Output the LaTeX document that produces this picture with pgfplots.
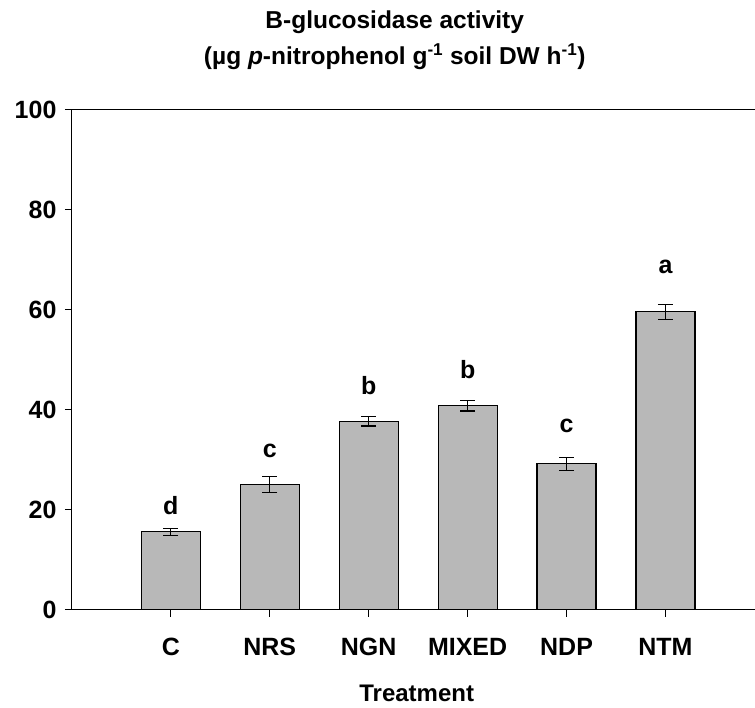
\documentclass[border=0pt]{standalone}
\usepackage{pgfplots}
\pgfplotsset{compat=1.18}
\usepackage{fontspec}
\setmainfont{Liberation Sans}
\definecolor{barfill}{RGB}{184,184,184}
\begin{document}
\begin{tikzpicture}
\begin{axis}[
  name=ax,
  at={(0,0)}, anchor=south west,
  scale only axis,
  width=683pt, height=500pt,
  xmin=-1, xmax=5.9, ymin=0, ymax=100,
  enlargelimits=false,
  clip=false,
  axis y line=left, axis x line=bottom,
  axis line style={line width=1pt,-},
  xtick={0,1,2,3,4,5},
  xticklabels={C,NRS,NGN,MIXED,NDP,NTM},
  ytick={0,20,40,60,80,100},
  tick align=outside,
  major tick length=7pt,
  tick style={line width=1pt,black},
  /pgf/number format/assume math mode=true,
  tick label style={font=\bfseries\fontsize{25}{29}\selectfont},
  xticklabel style={yshift=-18pt},
  yticklabel style={xshift=-5pt},
]
\addplot[ybar, bar width=59pt, fill=barfill, draw=black, line width=1.2pt,
  error bars/.cd, y dir=both, y explicit,
  error bar style={line width=1.2pt,black},
  error mark options={rotate=90, mark size=7.5pt, line width=1.2pt, black}]
  table[x=x, y=y, y error=e] {
x y e
0 15.6 0.7
1 25.1 1.6
2 37.7 0.95
3 40.8 1.05
4 29.2 1.3
5 59.6 1.5
};
\draw[line width=1pt] (rel axis cs:0,1) -- (rel axis cs:1,1);
\begin{scope}[every node/.style={anchor=base, font=\bfseries\fontsize{25}{29}\selectfont, inner sep=0pt}]
\node at (axis cs:0,19.0) {d};
\node at (axis cs:1,30.5) {c};
\node at (axis cs:2,43.1) {b};
\node at (axis cs:3,46.3) {b};
\node at (axis cs:4,35.5) {c};
\node at (axis cs:5,67.2) {a};
\end{scope}
\end{axis}
\path[use as bounding box] (ax.south west) ++(-72pt,-98pt) rectangle ++(755pt,708pt);
\begin{scope}[shift={(ax.south west)}, every node/.style={anchor=base, inner sep=0pt}]
\node[font=\bfseries\fontsize{24.5}{29}\selectfont] at (323pt,581.7pt) {B-glucosidase activity};
\node[font=\bfseries\fontsize{24.5}{29}\selectfont] at (323pt,545pt) {(µg \textit{p}-nitrophenol g\textsuperscript{-1} soil DW h\textsuperscript{-1})};
\node[font=\bfseries\fontsize{24}{28}\selectfont] at (345pt,-91.7pt) {Treatment};
\end{scope}
\end{tikzpicture}
\end{document}
